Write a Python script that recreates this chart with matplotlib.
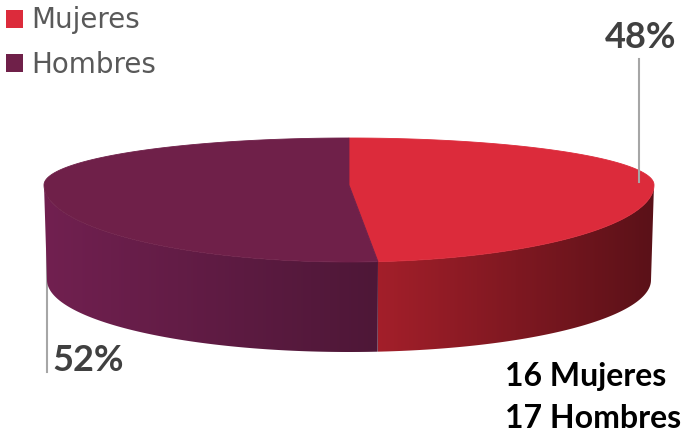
import numpy as np
import matplotlib
matplotlib.use("Agg")
import matplotlib.pyplot as plt
from matplotlib.patches import Polygon, Patch
from matplotlib.colors import LinearSegmentedColormap

# data
labels = ["Mujeres", "Hombres"]
counts = [16, 17]
top_colors = ["#DC2B3B", "#6F2049"]
side_colors = [("#A31F2A", "#5A1118"), ("#712050", "#4E1737")]

# pie geometry (pixels)
cx, cy = 349, 185
a_top, a_bot = 305, 302
b_back, b_front = 47, 77
bot_cy, bot_b = 280, 72


def top_pt(t):
    c = np.cos(t)
    b = np.where(c > 0, b_back, b_front)
    return cx + a_top * np.sin(t), cy - b * c


def bot_pt(t):
    return cx + a_bot * np.sin(t), bot_cy - bot_b * np.cos(t)


fig = plt.figure(figsize=(6.88, 4.32), dpi=100)
ax = fig.add_axes([0, 0, 1, 1])
ax.set_xlim(0, 688)
ax.set_ylim(432, 0)
ax.axis("off")

total = sum(counts)
angles = np.cumsum([0] + [2 * np.pi * c / total for c in counts])

# side walls (only the front half is visible), horizontal gradient
grad = np.linspace(0, 1, 256).reshape(1, -1)
for i in range(len(counts)):
    t0 = max(angles[i], np.pi / 2)
    t1 = min(angles[i + 1], 3 * np.pi / 2)
    if t1 <= t0:
        continue
    t = np.linspace(t0, t1, 200)
    xt, yt = top_pt(t)
    xb, yb = bot_pt(t[::-1])
    pts = np.column_stack([np.concatenate([xt, xb]), np.concatenate([yt, yb])])
    poly = Polygon(pts, closed=True, facecolor="none", edgecolor="none")
    ax.add_patch(poly)
    x0, x1 = pts[:, 0].min(), pts[:, 0].max()
    cmap = LinearSegmentedColormap.from_list("s%d" % i, side_colors[i])
    img = ax.imshow(grad, cmap=cmap, aspect="auto",
                    extent=(x0, x1, pts[:, 1].max(), pts[:, 1].min()),
                    interpolation="bicubic", zorder=1)
    img.set_clip_path(poly)

# top faces
for i in range(len(counts)):
    t = np.linspace(angles[i], angles[i + 1], 300)
    xt, yt = top_pt(t)
    pts = np.column_stack([np.concatenate([[cx], xt]), np.concatenate([[cy], yt])])
    ax.add_patch(Polygon(pts, closed=True, facecolor=top_colors[i],
                         edgecolor=top_colors[i], linewidth=0.6, zorder=2))

# percentage labels with leader lines
pcts = ["%d%%" % round(100 * c / total) for c in counts]
ax.plot([639, 639], [59, 182], color="#A6A6A6", lw=1.5, zorder=3)
ax.plot([47, 47], [190, 372], color="#A6A6A6", lw=1.5, zorder=0)
ax.text(641, 48, pcts[0], ha="center", va="baseline", fontsize=26,
        fontfamily="Lato", fontweight="bold", color="#404040")
ax.text(52, 371, pcts[1], ha="left", va="baseline", fontsize=26,
        fontfamily="Lato", fontweight="bold", color="#404040")

# count note
ax.text(505, 386, "%d %s" % (counts[0], labels[0]), ha="left", va="baseline",
        fontsize=23, fontfamily="Lato", fontweight="bold", color="black")
ax.text(505, 428, "%d %s" % (counts[1], labels[1]), ha="left", va="baseline",
        fontsize=23, fontfamily="Lato", fontweight="bold", color="black")

# legend
handles = [Patch(facecolor=c, edgecolor="none") for c in top_colors]
fig.legend(handles, labels, loc="upper left", bbox_to_anchor=(0.008, 0.985),
           frameon=False, fontsize=20, labelcolor="#595959",
           handlelength=0.62, handleheight=0.62, handletextpad=0.3,
           labelspacing=0.6, borderpad=0.0, borderaxespad=0.0)

fig.savefig("out.png", dpi=100)
